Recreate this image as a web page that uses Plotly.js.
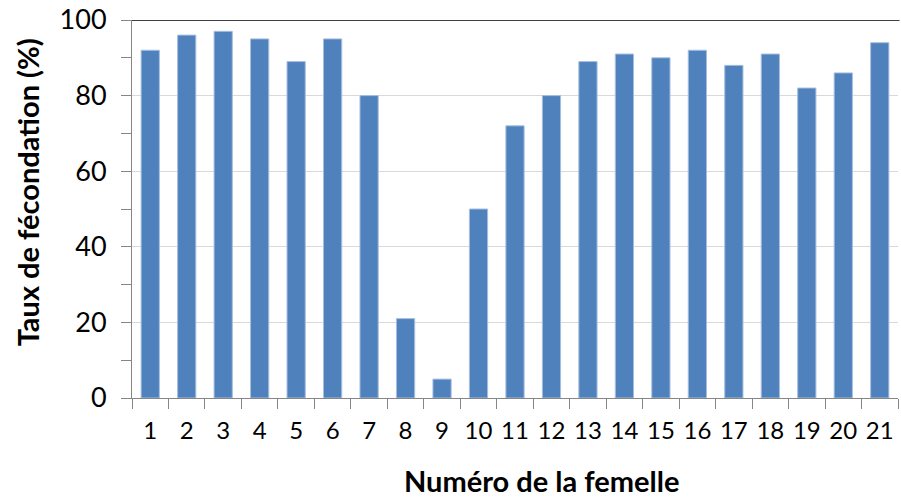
<!DOCTYPE html>
<html>
<head>
<meta charset="utf-8">
<script src="https://cdn.plot.ly/plotly-3.0.1.min.js"></script>
<style>html,body{margin:0;padding:0;background:#fff;}#chart{width:901px;height:497px;}</style>
</head>
<body>
<div id="chart"></div>
<script>
var categories = ["1","2","3","4","5","6","7","8","9","10","11","12","13","14","15","16","17","18","19","20","21"];
var tauxFecondation = [92, 96, 97, 95, 89, 95, 80, 21, 5, 50, 72, 80, 89, 91, 90, 92, 88, 91, 82, 86, 94];
var yTickValues = [0, 20, 40, 60, 80, 100];
var xTitle = "Numéro de la femelle";
var yTitle = "Taux de fécondation (%)";

var FONT = "Lato, 'Open Sans', sans-serif";

var trace = {
  type: "bar",
  x: categories,
  y: tauxFecondation,
  marker: {color: "#4f81bd", line: {color: "#a7bfdf", width: 1}},
  hoverinfo: "x+y"
};

var layout = {
  width: 901, height: 497,
  margin: {l: 132, r: 3, t: 19.5, b: 99, pad: 0},
  paper_bgcolor: "#ffffff", plot_bgcolor: "#ffffff",
  showlegend: false,
  bargap: 0.5,
  font: {family: FONT, color: "#000000"},
  xaxis: {
    type: "category",
    tickson: "boundaries",
    tickangle: 0,
    ticks: "outside", ticklen: 10, tickcolor: "#868686", tickwidth: 1,
    showline: true, linecolor: "#868686", linewidth: 1,
    showgrid: false, zeroline: false,
    tickfont: {family: FONT, size: 24, color: "#000"},
    ticklabelstandoff: 11,
    fixedrange: true
  },
  yaxis: {
    range: [0, 100],
    tickvals: yTickValues,
    ticktext: yTickValues.map(String),
    ticks: "outside", ticklen: 10, tickcolor: "#868686", tickwidth: 1,
    minor: {dtick: 10, tick0: 0, ticks: "outside", ticklen: 10, tickcolor: "#868686", showgrid: false},
    showline: true, linecolor: "#868686", linewidth: 1,
    showgrid: true, gridcolor: "#d9d9d9", gridwidth: 1,
    zeroline: false,
    tickfont: {family: FONT, size: 27, color: "#000"},
    ticklabelstandoff: 9,
    fixedrange: true
  },
  shapes: [{
    type: "line", xref: "paper", yref: "y", x0: 0, x1: 1.002, y0: 100, y1: 100,
    line: {color: "#404040", width: 2}
  }],
  annotations: [
    {text: xTitle, xref: "paper", yref: "paper", x: (541 - 132) / 766, y: -(481 - 398) / 378.5, xanchor: "center", yanchor: "middle",
     showarrow: false, font: {family: FONT, size: 29, color: "#000", weight: "bold"}},
    {text: yTitle, xref: "paper", yref: "paper", x: -0.137, y: (398 - 192) / 378.5, xanchor: "center", yanchor: "middle",
     textangle: -90, showarrow: false, font: {family: FONT, size: 29, color: "#000", weight: "bold"}}
  ]
};

Plotly.newPlot("chart", [trace], layout, {displayModeBar: false, staticPlot: true});
</script>
</body>
</html>
